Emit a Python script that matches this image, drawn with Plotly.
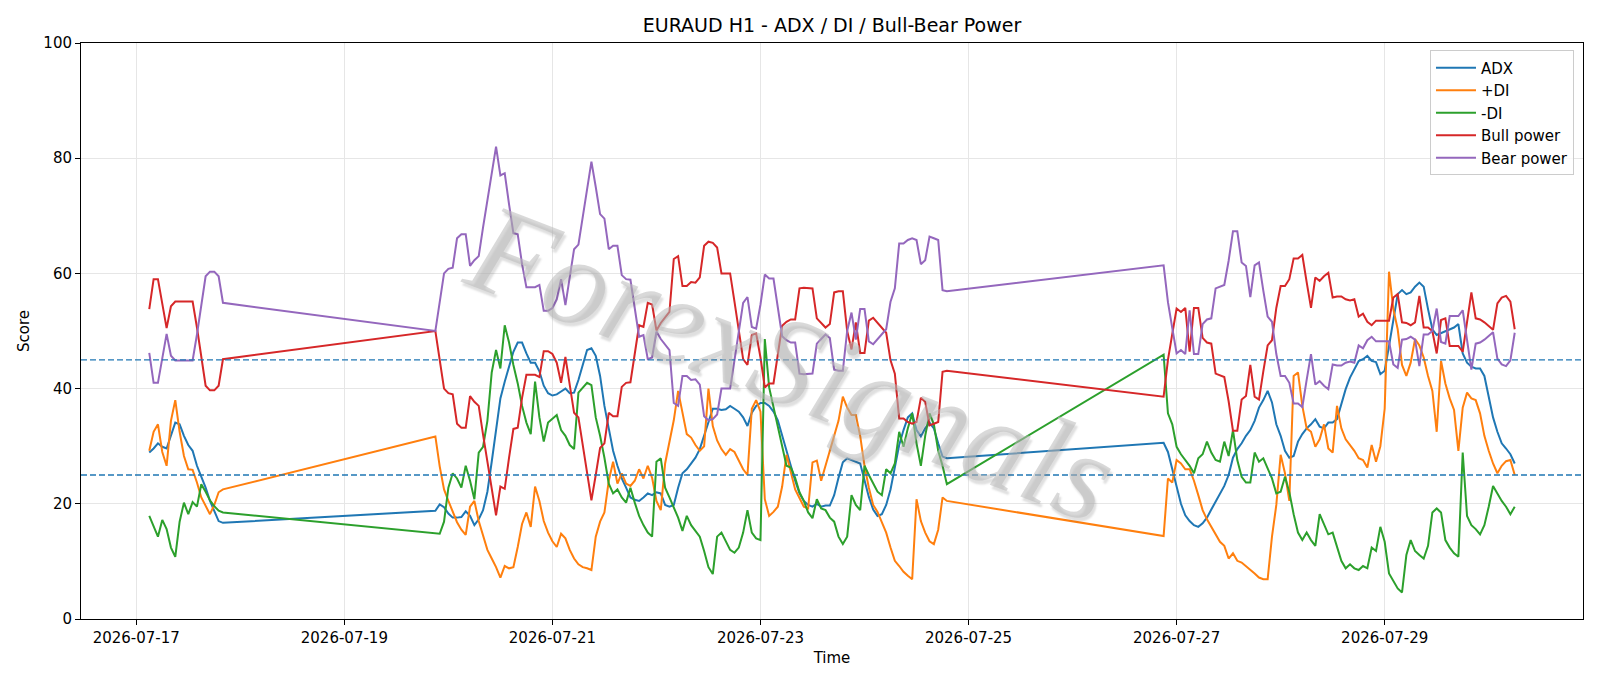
import pandas as pd
import plotly.graph_objects as go

# ---------------- data (hourly, three trading segments) ----------------
seg_starts = ["2026-07-17 03:00", "2026-07-19 21:00", "2026-07-26 21:00"]
seg_counts = [18, 119, 82]

adx = [
    # seg 1
    28.9, 29.6, 30.5, 29.9, 29.6, 31.8, 34.1, 33.8, 31.8, 30.2, 29.2, 26.6, 24.7, 22.8, 20.5, 18.6, 17.0, 16.7,
    # seg 2
    18.8, 19.9, 19.4, 18.3, 17.6, 17.6, 17.7, 18.7, 17.9, 16.3,
    17.3, 18.9, 22.1, 27.3, 32.5, 38.3, 41.2, 43.8, 46.4, 48.0,
    48.0, 46.1, 44.5, 44.5, 43.0, 40.5, 39.2, 38.8, 39.0, 39.5,
    40.0, 39.2, 39.3, 41.5, 44.1, 46.7, 47.0, 45.7, 42.2, 37.0,
    33.1, 29.2, 26.6, 24.4, 22.8, 21.1, 20.7, 20.5, 21.1, 21.8,
    21.5, 22.0, 21.8, 19.8, 19.5, 19.8, 22.8, 25.3, 26.0, 27.0,
    28.0, 29.5, 31.8, 34.5, 36.5, 36.5, 36.3, 36.4, 37.0, 36.5,
    36.0, 35.0, 33.5, 35.8, 37.0, 37.5, 37.5, 37.0, 36.0, 34.5,
    32.0, 29.5, 26.6, 24.0, 21.8, 20.5, 19.8, 19.5, 20.0, 19.5,
    19.7, 19.7, 21.5, 24.5, 27.2, 27.9, 27.6, 27.3, 27.0, 24.1,
    21.2, 19.0, 17.9, 18.2, 19.8, 22.5, 26.3, 30.2, 32.8, 35.0,
    35.7, 32.8, 31.7, 33.1, 34.1, 33.1, 30.5, 28.2, 27.9,
    # seg 3
    30.6, 29.0, 26.0, 22.5, 20.0, 18.0, 17.0, 16.3, 16.0, 16.6,
    17.6, 19.0, 20.3, 21.8, 23.1, 25.0, 28.0, 29.5, 30.5, 31.8,
    32.8, 34.4, 36.7, 38.0, 39.6, 37.6, 33.8, 31.8, 29.2, 28.0,
    28.3, 30.8, 32.1, 33.1, 33.8, 34.7, 33.4, 33.1, 34.1, 34.1,
    34.7, 37.3, 39.9, 41.9, 43.5, 44.8, 45.1, 45.7, 44.8, 44.6,
    42.5, 43.1, 47.4, 51.9, 56.4, 57.1, 56.4, 56.7, 57.7, 58.4,
    57.7, 53.8, 50.3, 49.3, 49.6, 50.0, 50.3, 50.6, 51.2, 46.1,
    44.5, 43.8, 43.5, 43.5, 42.2, 38.3, 35.0, 32.5, 30.5, 29.6,
    28.6, 27.0,
]

plus_di = [
    29.2, 32.5, 33.8, 29.0, 26.6, 34.4, 38.0, 32.5, 28.3, 26.0, 25.9, 23.7, 21.1, 19.5, 18.2, 19.8, 22.0, 22.5,
    31.7, 26.5, 22.5, 20.5, 18.5, 16.8, 15.5, 14.6, 19.5, 20.5,
    17.0, 14.5, 12.0, 10.5, 9.0, 7.2, 9.2, 8.8, 9.0, 12.5,
    16.5, 18.5, 16.0, 23.0, 20.5, 17.0, 15.0, 13.5, 12.5, 14.8,
    14.0, 12.0, 10.5, 9.5, 9.0, 8.8, 8.5, 14.3, 16.9, 18.5,
    24.0, 27.3, 23.5, 25.3, 23.5, 23.1, 24.0, 26.0, 24.4, 26.6,
    24.5, 20.5, 18.9, 27.0, 31.0, 34.5, 39.6, 36.0, 32.1, 31.5,
    30.2, 29.2, 30.0, 40.0, 33.5, 31.0, 29.5, 28.5, 29.5, 29.0,
    27.5, 26.0, 25.0, 36.5, 38.0, 36.0, 20.8, 17.9, 18.6, 19.5,
    23.0, 28.5, 25.5, 22.5, 21.0, 19.5, 19.2, 27.2, 27.5, 24.0,
    26.6, 29.2, 31.8, 34.4, 38.6, 36.7, 35.4, 35.4, 31.8, 26.6,
    22.8, 19.8, 18.6, 16.9, 15.0, 12.4, 10.1, 9.2, 8.2, 7.5,
    6.9, 20.8, 17.0, 15.0, 13.5, 13.0, 15.5, 21.1, 20.5,
    14.4, 24.4, 23.7, 27.6, 27.0, 26.0, 26.0, 24.0, 21.5, 18.9,
    17.3, 16.0, 14.7, 13.4, 12.7, 10.5, 11.4, 10.1, 9.8, 9.2,
    8.5, 7.9, 7.2, 6.9, 6.9, 14.3, 19.8, 28.5, 25.3, 20.5,
    42.2, 42.8, 37.0, 33.1, 32.5, 29.9, 31.2, 33.8, 29.6, 28.9,
    37.0, 33.1, 31.2, 30.2, 29.2, 27.9, 27.6, 26.3, 30.2, 27.3,
    30.0, 36.5, 60.3, 53.8, 50.3, 44.1, 42.2, 44.5, 48.6, 47.5,
    45.4, 42.2, 39.6, 32.5, 44.8, 40.9, 38.3, 36.3, 29.2, 36.7,
    39.3, 38.3, 38.0, 35.7, 31.8, 29.2, 27.0, 25.3, 26.6, 27.4,
    27.6, 25.0,
]

minus_di = [
    17.9, 16.0, 14.3, 17.2, 15.6, 12.4, 10.8, 16.9, 20.2, 18.2, 20.3, 19.5, 23.4, 22.1, 20.6, 19.6, 18.8, 18.5,
    15.0, 14.8, 16.9, 22.8, 25.3, 24.4, 22.8, 26.6, 24.0, 20.8,
    28.9, 29.9, 34.4, 42.8, 46.7, 43.5, 51.0, 48.0, 44.1, 40.9,
    37.0, 34.1, 32.1, 41.2, 35.0, 30.8, 34.1, 34.7, 35.4, 32.8,
    31.8, 30.2, 29.5, 39.3, 40.2, 41.0, 40.6, 35.0, 31.8, 28.0,
    23.5, 21.8, 22.5, 21.1, 20.2, 22.8, 20.2, 17.9, 16.3, 15.0,
    14.3, 27.3, 27.9, 22.8, 21.1, 19.5, 17.6, 15.3, 17.9, 16.3,
    15.3, 14.3, 11.8, 9.0, 7.8, 14.3, 15.0, 13.4, 12.0, 11.5,
    12.4, 15.0, 18.9, 15.0, 14.0, 13.7, 48.6, 40.2, 36.7, 33.8,
    29.9, 26.6, 26.3, 24.5, 22.0, 20.5, 18.5, 17.5, 20.8, 19.2,
    18.9, 17.6, 16.9, 14.3, 13.0, 14.3, 21.5, 19.8, 18.9, 26.6,
    25.0, 23.4, 22.1, 21.5, 26.0, 25.3, 27.0, 32.5, 29.9, 33.1,
    35.7, 30.5, 26.6, 31.8, 35.7, 33.8, 29.2, 26.6, 23.4,
    45.9, 35.7, 33.8, 29.9, 28.6, 27.6, 26.6, 25.3, 27.9, 28.6,
    30.8, 28.9, 27.6, 27.3, 30.8, 28.3, 32.8, 27.6, 24.7, 23.7,
    23.7, 28.9, 27.3, 27.9, 26.0, 24.4, 21.8, 22.1, 24.7, 22.0,
    18.2, 15.0, 13.7, 15.0, 13.7, 12.7, 18.2, 16.3, 14.7, 15.0,
    12.4, 10.1, 8.8, 9.5, 8.8, 8.5, 9.2, 8.8, 12.4, 11.8,
    16.0, 13.4, 7.9, 6.6, 5.3, 4.6, 11.1, 13.7, 11.8, 11.1,
    10.5, 12.7, 18.5, 19.2, 18.5, 13.7, 12.4, 11.4, 10.8, 28.9,
    17.9, 16.3, 15.6, 14.7, 16.3, 19.5, 23.1, 21.8, 20.5, 19.5,
    18.2, 19.5,
]

bull_power = [
    53.8, 59.0, 59.0, 54.5, 50.5, 54.3, 55.1, 55.1, 55.1, 55.1, 55.1, 50.6, 45.4, 40.5, 39.7, 39.7, 40.5, 45.1,
    50.0, 45.0, 40.0, 39.2, 39.0, 33.9, 33.2, 33.2, 38.7, 37.7,
    37.0, 32.0, 27.4, 22.5, 18.0, 23.0, 22.6, 28.0, 33.0, 33.2,
    38.4, 42.4, 42.4, 42.4, 42.0, 46.5, 46.5, 46.0, 44.5, 41.0,
    45.5, 40.7, 35.8, 35.0, 30.0, 25.4, 20.6, 25.0, 29.7, 30.5,
    35.8, 35.2, 35.2, 40.3, 41.0, 41.1, 46.0, 51.0, 50.7, 54.9,
    54.6, 50.1, 51.4, 52.3, 53.3, 62.5, 63.0, 57.8, 57.8, 58.5,
    58.4, 59.3, 64.8, 65.5, 65.3, 64.5, 60.0, 60.0, 60.0, 55.1,
    50.0, 45.1, 44.1, 49.3, 49.6, 45.4, 40.2, 40.9, 40.9, 45.9,
    50.9, 51.6, 52.0, 52.0, 57.4, 57.5, 57.5, 57.4, 52.2, 51.4,
    50.6, 51.2, 56.7, 56.9, 56.9, 50.0, 46.8, 51.5, 46.2, 46.2,
    51.8, 52.3, 51.4, 50.7, 49.7, 44.9, 42.6, 34.8, 34.8, 34.2,
    33.9, 34.2, 38.4, 37.7, 33.6, 33.9, 34.2, 42.9, 43.1,
    38.6, 45.0, 49.5, 53.9, 53.3, 54.0, 46.4, 54.0, 54.0, 48.8,
    48.0, 47.8, 42.6, 42.3, 42.0, 37.8, 32.7, 32.7, 38.1, 38.7,
    44.1, 38.6, 38.1, 43.0, 47.5, 48.4, 54.0, 57.8, 57.8, 59.0,
    62.6, 62.6, 63.2, 58.5, 54.0, 59.3, 58.7, 59.5, 60.1, 55.8,
    56.0, 56.0, 55.5, 55.3, 55.5, 52.5, 53.0, 51.6, 51.0, 51.8,
    51.8, 51.8, 51.8, 55.8, 56.4, 51.5, 51.4, 51.0, 51.5, 56.1,
    50.6, 50.6, 50.0, 46.1, 51.9, 52.2, 47.4, 47.4, 47.4, 46.4,
    51.5, 56.7, 52.2, 52.0, 51.5, 50.8, 50.2, 54.8, 55.8, 56.1,
    55.1, 50.3,
]

bear_power = [
    46.2, 41.0, 41.0, 45.5, 49.5, 45.7, 44.9, 44.9, 44.9, 44.9, 44.9, 49.4, 54.6, 59.5, 60.3, 60.3, 59.5, 54.9,
    50.0, 55.0, 60.0, 60.8, 61.0, 66.1, 66.8, 66.8, 61.3, 62.3,
    63.0, 68.0, 72.6, 77.5, 82.0, 77.0, 77.4, 72.0, 67.0, 66.8,
    61.6, 57.6, 57.6, 57.6, 58.0, 53.5, 53.5, 54.0, 55.5, 59.0,
    54.5, 59.3, 64.2, 65.0, 70.0, 74.6, 79.4, 75.0, 70.3, 69.5,
    64.2, 64.8, 64.8, 59.7, 59.0, 58.9, 54.0, 49.0, 49.3, 45.1,
    45.4, 49.9, 48.6, 47.7, 46.7, 37.5, 37.0, 42.2, 42.2, 41.5,
    41.6, 40.7, 35.2, 34.5, 34.7, 35.5, 40.0, 40.0, 40.0, 44.9,
    50.0, 54.9, 55.9, 50.7, 50.4, 54.6, 59.8, 59.1, 59.1, 54.1,
    49.1, 48.4, 48.0, 48.0, 42.6, 42.5, 42.5, 42.6, 47.8, 48.6,
    49.4, 48.8, 43.3, 43.1, 43.1, 50.0, 53.2, 48.5, 53.8, 53.8,
    48.2, 47.7, 48.6, 49.3, 50.3, 55.1, 57.4, 65.2, 65.2, 65.8,
    66.1, 65.8, 61.6, 62.3, 66.4, 66.1, 65.8, 57.1, 56.9,
    61.4, 55.0, 50.5, 46.1, 46.7, 46.0, 53.6, 46.0, 46.0, 51.2,
    52.0, 52.2, 57.4, 57.7, 58.0, 62.2, 67.3, 67.3, 61.9, 61.3,
    55.9, 61.4, 61.9, 57.0, 52.5, 51.6, 46.0, 42.2, 42.2, 41.0,
    37.4, 37.4, 36.8, 41.5, 46.0, 40.7, 41.3, 40.5, 39.9, 44.2,
    44.0, 44.0, 44.5, 44.7, 44.5, 47.5, 47.0, 48.4, 49.0, 48.2,
    48.2, 48.2, 48.2, 44.2, 43.6, 48.5, 48.6, 49.0, 48.5, 43.9,
    49.4, 49.4, 50.0, 53.9, 48.1, 47.8, 52.6, 52.6, 52.6, 53.6,
    48.5, 43.3, 47.8, 48.0, 48.5, 49.2, 49.8, 45.2, 44.2, 43.9,
    44.9, 49.7,
]

x_tick_dates = ["2026-07-17", "2026-07-19", "2026-07-21", "2026-07-23",
                "2026-07-25", "2026-07-27", "2026-07-29"]
y_ticks = [0, 20, 40, 60, 80, 100]
threshold_lines = [25, 45]

# ---------------- build ----------------
times = []
for start, n in zip(seg_starts, seg_counts):
    times.extend(pd.date_range(start, periods=n, freq="h"))

series = [
    ("ADX", adx, "#1f77b4"),
    ("+DI", plus_di, "#ff7f0e"),
    ("-DI", minus_di, "#2ca02c"),
    ("Bull power", bull_power, "#d62728"),
    ("Bear power", bear_power, "#9467bd"),
]

fig = go.Figure()
for name, vals, col in series:
    fig.add_trace(go.Scatter(x=times, y=vals, mode="lines", name=name,
                             line=dict(color=col, width=2)))

t0, t1 = times[0], times[-1]
pad = (t1 - t0) * 0.05
x_range = [t0 - pad, t1 + pad]

for yv in threshold_lines:
    fig.add_shape(type="line", xref="paper", x0=0, x1=1, yref="y", y0=yv, y1=yv,
                  line=dict(color="#1f77b4", width=1.3, dash="6px,3px"), layer="above")

FONT = "DejaVu Sans"
fig.update_layout(
    width=1600, height=686,
    margin=dict(l=81, r=17, t=43, b=67),
    paper_bgcolor="white", plot_bgcolor="white",
    font=dict(family=FONT, size=15, color="black"),
    title=dict(text="EURAUD H1 - ADX / DI / Bull-Bear Power", x=0.5, xref="paper",
               xanchor="center", y=1 - 25.5 / 686, yref="container", yanchor="middle",
               font=dict(size=19, family=FONT)),
    legend=dict(x=0.994, y=0.987, xanchor="right", yanchor="top",
                bgcolor="rgba(255,255,255,0.8)", bordercolor="#cccccc", borderwidth=1,
                font=dict(size=15, family=FONT), tracegroupgap=0, itemwidth=40),
    showlegend=True,
)
fig.update_xaxes(
    range=x_range, type="date",
    tickvals=x_tick_dates, tickformat="%Y-%m-%d",
    tickfont=dict(size=15),
    showgrid=True, gridcolor="#e6e6e6", gridwidth=1,
    showline=True, linecolor="black", linewidth=1, mirror=True,
    ticks="outside", ticklen=5, tickcolor="black",
    title=dict(text="Time", standoff=6, font=dict(size=15)),
    zeroline=False,
)
fig.update_yaxes(
    range=[0, 100], tickvals=y_ticks,
    tickfont=dict(size=15),
    showgrid=True, gridcolor="#e6e6e6", gridwidth=1,
    showline=True, linecolor="black", linewidth=1, mirror=True,
    ticks="outside", ticklen=5, tickcolor="black",
    title=dict(text="Score", standoff=10, font=dict(size=15)),
    zeroline=False,
)

# watermark
fig.add_annotation(text="ForexSignals", xref="paper", yref="paper", x=0.474, y=0.445,
                   showarrow=False, textangle=21,
                   font=dict(size=128, family="Liberation Serif",
                             color="rgba(185,185,185,0.55)", style="italic",
                             shadow="3px 3px 2px rgba(90,90,90,0.35)"))

fig.write_html("out.html")
